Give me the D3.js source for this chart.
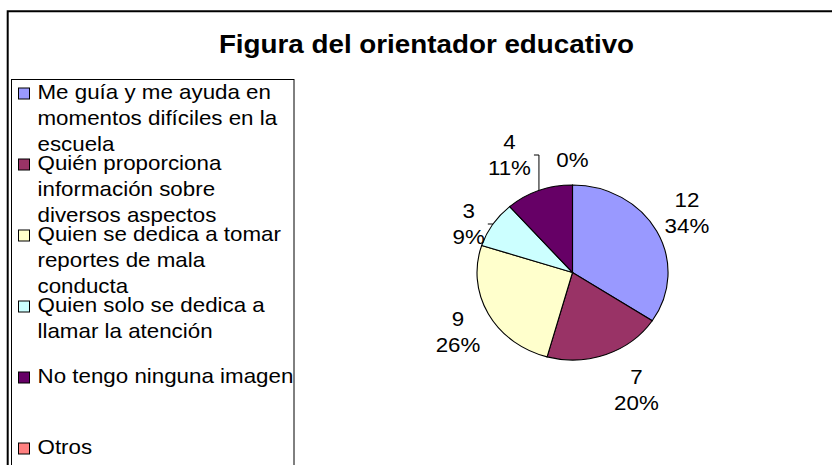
<!DOCTYPE html>
<html>
<head>
<meta charset="utf-8">
<script src="https://cdn.jsdelivr.net/npm/d3@7"></script>
<style>
  html, body { margin: 0; padding: 0; background: #ffffff; }
  svg { display: block; }
  text { font-family: "Liberation Sans", Arial, sans-serif; fill: #000; }
</style>
</head>
<body>
<script>
// ---- data ----
const chartTitle = "Figura del orientador educativo";
const categories = [
  "Me guía y me ayuda en momentos difíciles en la escuela",
  "Quién proporciona información sobre diversos aspectos",
  "Quien se dedica a tomar reportes de mala conducta",
  "Quien solo se dedica a llamar la atención",
  "No tengo ninguna imagen",
  "Otros"
];
const values = [12, 7, 9, 3, 4, 0];
const colors = ["#9999FF", "#993366", "#FFFFCC", "#CCFFFF", "#660066", "#FF8080"];

// ---- layout ----
const W = 832, H = 465;
const SX = 1.09;               // horizontal stretch of the original export
const FONT = 20.5;
const cx = 572.5, cy = 272.5, rx = 95.5, ry = 87.5;

const svg = d3.select("body").append("svg").attr("width", W).attr("height", H);

function stext(parent, str, x, y, opts = {}) {
  return parent.append("text")
    .attr("transform", `translate(${x},${y}) scale(${SX},1)`)
    .attr("text-anchor", opts.anchor || "start")
    .style("font-size", (opts.size || FONT) + "px")
    .style("font-weight", opts.weight || "normal")
    .text(str);
}

// outer chart frame (only top and left edges are visible)
svg.append("path")
  .attr("d", `M7.7,${H + 5} V11.2 H${W + 5}`)
  .attr("fill", "none").attr("stroke", "#000").attr("stroke-width", 2);

// title
stext(svg, chartTitle, 426.5, 52.5, { anchor: "middle", size: 25.5, weight: "bold" });

// legend box
svg.append("rect")
  .attr("x", 11.5).attr("y", 79.5).attr("width", 282.5).attr("height", 420)
  .attr("fill", "none").attr("stroke", "#000").attr("stroke-width", 1);

// text measuring helper
const meas = svg.append("text").style("font-size", FONT + "px").attr("visibility", "hidden");
function textW(s) { meas.text(s); return meas.node().getComputedTextLength() * SX; }

function wrap(str, maxW) {
  const words = str.split(" ");
  const lines = [];
  let cur = "";
  words.forEach(w => {
    const t = cur ? cur + " " + w : w;
    if (cur && textW(t) > maxW) { lines.push(cur); cur = w; }
    else cur = t;
  });
  if (cur) lines.push(cur);
  return lines;
}

// legend entries
const legY = d3.scaleLinear().domain([0, 1]).range([99, 170]);
const lineH = 25.8;
const legend = svg.append("g");
categories.forEach((c, i) => {
  const base = legY(i);
  legend.append("rect")
    .attr("x", 18.5).attr("y", base - 11).attr("width", 11).attr("height", 11)
    .attr("fill", colors[i]).attr("stroke", "#000").attr("stroke-width", 1);
  wrap(c, 258).forEach((ln, k) => {
    stext(legend, ln, 37.5, base + k * lineH);
  });
});

// pie
const total = d3.sum(values);
const pie = d3.pie().sort(null).value(d => d);
const arcs = pie(values);
const arc = d3.arc().innerRadius(0).outerRadius(1);

const pg = svg.append("g").attr("transform", `translate(${cx},${cy}) scale(${rx},${ry})`);
pg.selectAll("path")
  .data(arcs.filter(d => d.value > 0))
  .join("path")
  .attr("d", arc)
  .attr("fill", (d) => colors[d.index])
  .attr("stroke", "#000")
  .attr("stroke-width", 1.1)
  .attr("vector-effect", "non-scaling-stroke");

// data labels
const labels = arcs.map(d => {
  const a = (d.startAngle + d.endAngle) / 2;
  const s = Math.sin(a), c = Math.cos(a);
  const pct = Math.round(d.value / total * 100) + "%";
  const lines = d.value > 0 ? [String(d.value), pct] : [pct];
  const w = d3.max(lines, textW);
  const h = lines.length * 26;
  const sg = Math.abs(s) < 0.05 ? 0 : Math.sign(s);
  const px = cx + rx * s, py = cy - ry * c;
  return {
    d, lines, w, h, px, py,
    x: px + sg * (w / 2 + 8),
    y: py - c * (h / 2 + 12),
    frac: d.value / total
  };
});

// simple collision avoidance: push lower label down
for (let it = 0; it < 3; it++) {
  labels.forEach(A => labels.forEach(B => {
    if (A === B) return;
    const xo = Math.min(A.x + A.w / 2, B.x + B.w / 2) - Math.max(A.x - A.w / 2, B.x - B.w / 2);
    if (xo < -6) return;
    const [top, bot] = A.y <= B.y ? [A, B] : [B, A];
    const gap = (bot.y - bot.h / 2) - (top.y + top.h / 2);
    if (gap < 17) bot.y += 17 - gap;
  }));
}

const lg = svg.append("g");
labels.forEach(L => {
  L.lines.forEach((t, k) => {
    const lc = L.y - L.h / 2 + 13 + k * 26;
    stext(lg, t, L.x, lc + 7.3, { anchor: "middle" });
  });
  if (L.frac > 0 && L.frac < 0.12) {
    const side = L.x < cx ? 1 : -1;
    const sx = L.x + side * (L.w / 2 + 3);
    lg.append("path")
      .attr("d", `M${sx},${L.y} H${sx + side * 5} L${L.px},${L.py}`)
      .attr("fill", "none").attr("stroke", "#000").attr("stroke-width", 1);
  }
});
meas.remove();
</script>
</body>
</html>
